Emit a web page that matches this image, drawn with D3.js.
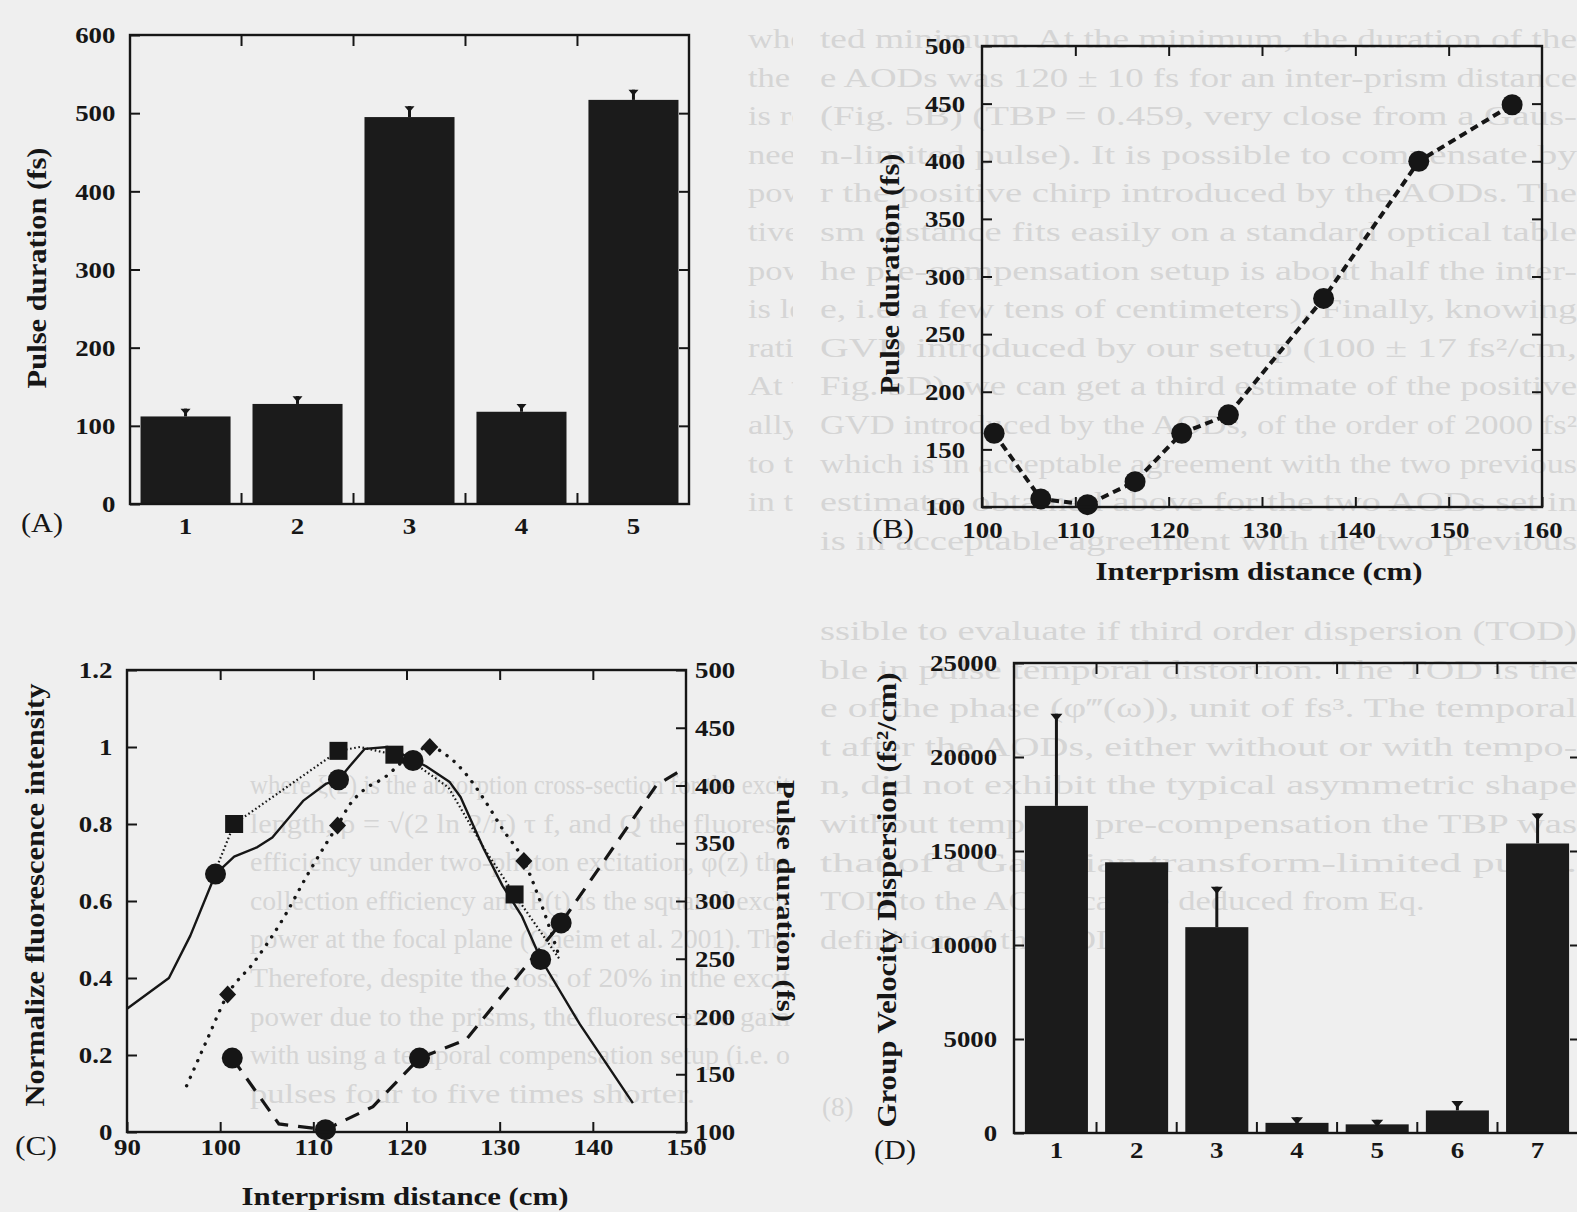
<!DOCTYPE html>
<html>
<head>
<meta charset="utf-8">
<title>Pulse duration / GVD figure</title>
<script src="https://cdn.jsdelivr.net/npm/d3@7"></script>
<style>
  body { margin: 0; background: #efefef; }
  svg { display: block; }
</style>
</head>
<body>
<script>
// ---------- values ----------

// (A) pulse duration for each configuration
var catsA = ["1", "2", "3", "4", "5"];
var pulseA = [112, 128, 495, 118, 517];
var errTopA = [122, 138, 509, 128, 530];
var ticksA = [0, 100, 200, 300, 400, 500, 600];

// (B) pulse duration vs interprism distance
var distB = [101.3, 106.3, 111.3, 116.4, 121.4, 126.4, 136.6, 146.8, 156.8];
var pulseB = [164, 107, 102, 122, 164, 180, 281, 400, 449];
var ticksBx = [100, 110, 120, 130, 140, 150, 160];
var ticksBy = [100, 150, 200, 250, 300, 350, 400, 450, 500];

// (C) normalized fluorescence (left axis), pulse duration (right axis, same as B)
var solidX = [90, 94.5, 96.8, 99.5, 101.5, 104, 105.6, 108.9, 111.4, 112.7, 113.9, 115.5, 118, 120.5, 122.1, 124.6, 125.8, 128.3, 130.3, 132.4, 134.4, 138.6, 144.3];
var solidY = [0.32, 0.40, 0.51, 0.67, 0.715, 0.74, 0.765, 0.86, 0.905, 0.915, 0.95, 0.995, 1.0, 0.97, 0.95, 0.91, 0.87, 0.735, 0.64, 0.56, 0.45, 0.28, 0.075];
var solidMarkX = [99.5, 112.7, 120.7, 134.4];
var solidMarkY = [0.67, 0.915, 0.965, 0.448];

var squareX = [99.5, 101.5, 112.7, 115, 118.7, 121, 124.5, 128.5, 131.6, 136.4];
var squareY = [0.68, 0.80, 0.99, 1.0, 0.98, 0.955, 0.895, 0.73, 0.617, 0.45];
var squareMarkX = [101.5, 112.7, 118.7, 131.6];
var squareMarkY = [0.80, 0.99, 0.98, 0.617];

var diamondX = [96.4, 98.6, 100.8, 103.6, 106.9, 109.3, 111.4, 112.6, 113.9, 115.5, 117.6, 120, 122.5, 124.5, 126.2, 128.3, 130.3, 132.6, 134.4, 136.5];
var diamondY = [0.12, 0.24, 0.357, 0.44, 0.56, 0.665, 0.75, 0.796, 0.85, 0.89, 0.92, 0.97, 1.0, 0.975, 0.935, 0.865, 0.787, 0.704, 0.596, 0.448];
var diamondMarkX = [100.8, 112.6, 122.5, 132.6];
var diamondMarkY = [0.357, 0.796, 1.0, 0.704];

var dashMarkIdx = [0, 2, 4, 6];   // points of distB/pulseB that carry a circle in (C)

var ticksCx = [90, 100, 110, 120, 130, 140, 150];
var ticksCy = [0, 0.2, 0.4, 0.6, 0.8, 1, 1.2];
var labelsCy = ["0", "0.2", "0.4", "0.6", "0.8", "1", "1.2"];
var ticksCr = [100, 150, 200, 250, 300, 350, 400, 450, 500];

// (D) group velocity dispersion per configuration
var catsD = ["1", "2", "3", "4", "5", "6", "7"];
var gvdD = [17400, 14400, 10950, 540, 460, 1200, 15400];
var errTopD = [22300, 14400, 13100, 840, 700, 1700, 17000];
var ticksD = [0, 5000, 10000, 15000, 20000, 25000];

// page text showing through behind the figure
var pageRightTop = [
  "ted minimum. At the minimum, the duration of the",
  "e AODs was 120 \u00b1 10 fs for an inter-prism distance",
  "(Fig. 5B) (TBP = 0.459, very close from a Gaus-",
  "n-limited pulse). It is possible to compensate by",
  "r the positive chirp introduced by the AODs. The",
  "sm distance fits easily on a standard optical table",
  "he pre-compensation setup is about half the inter-",
  "e, i.e. a few tens of centimeters). Finally, knowing",
  "GVD introduced by our setup (100 \u00b1 17 fs\u00b2/cm,",
  "Fig. 5D), we can get a third estimate of the positive",
  "GVD introduced by the AODs, of the order of 2000 fs\u00b2",
  "which is in acceptable agreement with the two previous",
  "estimates obtained above for the two AODs set in",
  "is in acceptable agreement with the two previous"
];
var pageLeftTop = [
  "where", "the av", "is red", "needed", "power", "tive di", "power",
  "is less", "ratio,", "At the", "ally", "to the", "in the"
];
var pageLeftBottom = [
  "where \u03be(2) is the absorption cross-section for the excit",
  "length, \u03c1 = \u221a(2 ln 2/\u03c0) \u03c4 f, and Q the fluoresc",
  "efficiency under two-photon excitation, \u03c6(z) the",
  "collection efficiency and P(t) is the squared excit",
  "power at the focal plane (Oheim et al. 2001). The",
  "Therefore, despite the loss of 20% in the excit",
  "power due to the prisms, the fluorescence gain",
  "with using a temporal compensation setup (i.e. o",
  "pulses four to five times shorter."
];
var pageRightBottom = [
  "ssible to evaluate if third order dispersion (TOD)",
  "ble in pulse temporal distortion. The TOD is the",
  "e of the phase (\u03c6\u2034(\u03c9)), unit of fs\u00b3. The temporal",
  "t after the AODs, either without or with tempo-",
  "n, did not exhibit the typical asymmetric shape",
  "without temporal pre-compensation the TBP was",
  "that of a Gaussian transform-limited pulse.",
  "TOD to the AODs can be deduced from Eq.",
  "definition of the TOD"
];

// ---------- drawing ----------
var W = 1577, H = 1212;
var ink = "#161616";
var pageInk = "#d5d5d5";
var serif = "'Liberation Serif', 'Times New Roman', serif";

var svg = d3.select("body").append("svg")
    .attr("width", W)
    .attr("height", H);

svg.append("rect").attr("width", W).attr("height", H).attr("fill", "#efefef");

var defs = svg.append("defs");
defs.append("clipPath").attr("id", "clipLeftCol")
  .append("rect").attr("x", 700).attr("y", 0).attr("width", 93).attr("height", 560);
defs.append("clipPath").attr("id", "clipC")
  .append("rect").attr("x", 127).attr("y", 670).attr("width", 559).attr("height", 462);

// faint page text
function pageText(lines, x0, x1, y0, clip) {
  var g = svg.append("g")
      .attr("fill", pageInk)
      .attr("font-family", serif)
      .attr("font-size", 27);
  if (clip) g.attr("clip-path", "url(#" + clip + ")");
  lines.forEach(function(t, i) {
    var tx = g.append("text").attr("x", x0).attr("y", y0 + i * 38.6).text(t);
    if (x1 && t.length > 40) tx.attr("textLength", x1 - x0).attr("lengthAdjust", "spacingAndGlyphs");
    else tx.attr("transform", "translate(" + x0 + ",0) scale(1.28,1) translate(" + (-x0) + ",0)");
  });
  return g;
}
pageText(pageRightTop, 820, 1577, 48);
pageText(pageLeftTop, 748, null, 48, "clipLeftCol");
pageText(pageLeftBottom, 250, 790, 794);
pageText(pageRightBottom, 820, 1577, 640);
svg.append("text").attr("x", 822).attr("y", 1116)
  .attr("fill", pageInk).attr("font-family", serif).attr("font-size", 27)
  .text("(8)");

// shared helpers
function styleAxis(g, sx) {
  g.select(".domain").remove();
  g.selectAll(".tick line").attr("stroke", ink).attr("stroke-width", 2);
  g.selectAll(".tick text")
    .attr("fill", ink)
    .attr("font-family", serif)
    .attr("font-weight", "bold")
    .attr("font-size", 24)
    .attr("transform", "scale(" + (sx || 1.12) + ",1)");
}

function frame(x0, y0, x1, y1) {
  svg.append("rect")
    .attr("x", x0).attr("y", y0)
    .attr("width", x1 - x0).attr("height", y1 - y0)
    .attr("fill", "none")
    .attr("stroke", ink)
    .attr("stroke-width", 2.4);
}

// ticks between bars, on top and bottom edges
function bandTicks(scale, yTop, yBot, len) {
  var c = scale.domain();
  for (var i = 1; i < c.length; i++) {
    var xm = (scale(c[i - 1]) + scale.bandwidth() + scale(c[i])) / 2;
    svg.append("line").attr("x1", xm).attr("x2", xm).attr("y1", yTop).attr("y2", yTop + len)
      .attr("stroke", ink).attr("stroke-width", 2);
    svg.append("line").attr("x1", xm).attr("x2", xm).attr("y1", yBot).attr("y2", yBot - len)
      .attr("stroke", ink).attr("stroke-width", 2);
  }
}

function panelLetter(txt, cx, y) {
  svg.append("text")
    .attr("x", cx).attr("y", y)
    .attr("text-anchor", "middle")
    .attr("font-family", serif)
    .attr("font-size", 27)
    .attr("fill", ink)
    .attr("textLength", 42)
    .attr("lengthAdjust", "spacingAndGlyphs")
    .text(txt);
}

function vTitle(txt, x, cy, len, size, rot) {
  svg.append("text")
    .attr("transform", "translate(" + x + "," + cy + ") rotate(" + (rot || -90) + ")")
    .attr("text-anchor", "middle")
    .attr("font-family", serif)
    .attr("font-weight", "bold")
    .attr("font-size", size)
    .attr("fill", ink)
    .attr("textLength", len)
    .attr("lengthAdjust", "spacingAndGlyphs")
    .text(txt);
}

function hTitle(txt, cx, y, len) {
  svg.append("text")
    .attr("x", cx).attr("y", y)
    .attr("text-anchor", "middle")
    .attr("font-family", serif)
    .attr("font-weight", "bold")
    .attr("font-size", 26)
    .attr("fill", ink)
    .attr("textLength", len)
    .attr("lengthAdjust", "spacingAndGlyphs")
    .text(txt);
}

function errBars(scaleX, scaleY, cats, vals, tops, cap) {
  cats.forEach(function(c, i) {
    if (tops[i] <= vals[i]) return;
    var cx = scaleX(c) + scaleX.bandwidth() / 2;
    svg.append("line")
      .attr("x1", cx).attr("x2", cx)
      .attr("y1", scaleY(vals[i])).attr("y2", scaleY(tops[i]))
      .attr("stroke", ink).attr("stroke-width", 3);
    svg.append("path")
      .attr("d", "M" + (cx - cap / 2) + "," + scaleY(tops[i]) + "h" + cap + "l" + (-cap / 2) + "," + (cap * 0.6) + "z")
      .attr("fill", ink);
  });
}

// ---------- (A) ----------
var xA = d3.scaleBand().domain(catsA).range([130, 689]).paddingInner(0.196).paddingOuter(0.094);
var yA = d3.scaleLinear().domain([0, 600]).range([504, 35]);

svg.selectAll(".barA")
  .data(pulseA)
  .enter()
  .append("rect")
  .attr("class", "barA")
  .attr("x", function(d, i) { return xA(catsA[i]); })
  .attr("y", function(d) { return yA(d); })
  .attr("width", xA.bandwidth())
  .attr("height", function(d) { return yA(0) - yA(d); })
  .attr("fill", "#1b1b1b");
errBars(xA, yA, catsA, pulseA, errTopA, 10);

svg.append("g").attr("transform", "translate(130,0)")
  .call(d3.axisLeft(yA).tickValues(ticksA).tickSizeInner(-10).tickSizeOuter(0).tickPadding(13))
  .call(styleAxis);
svg.append("g").attr("transform", "translate(689,0)")
  .call(d3.axisRight(yA).tickValues(ticksA.slice(1, -1)).tickSizeInner(-10).tickSizeOuter(0).tickFormat(""))
  .call(styleAxis);
svg.append("g").attr("transform", "translate(0,504)")
  .call(d3.axisBottom(xA).tickSize(0).tickPadding(13))
  .call(styleAxis);
bandTicks(xA, 35, 504, 11);
frame(130, 35, 689, 504);
panelLetter("(A)", 42, 532);
vTitle("Pulse duration (fs)", 46, 268, 241, 28);

// ---------- (B) ----------
var xB = d3.scaleLinear().domain([100, 160]).range([982, 1542]);
var yB = d3.scaleLinear().domain([100, 500]).range([507, 46]);

svg.append("g").attr("transform", "translate(982,0)")
  .call(d3.axisLeft(yB).tickValues(ticksBy).tickSizeInner(-10).tickSizeOuter(0).tickPadding(15))
  .call(styleAxis);
svg.append("g").attr("transform", "translate(1542,0)")
  .call(d3.axisRight(yB).tickValues(ticksBy.slice(1, -1)).tickSizeInner(-10).tickSizeOuter(0).tickFormat(""))
  .call(styleAxis);
svg.append("g").attr("transform", "translate(0,507)")
  .call(d3.axisBottom(xB).tickValues(ticksBx).tickSizeInner(-10).tickSizeOuter(0).tickPadding(14))
  .call(styleAxis);
svg.append("g").attr("transform", "translate(0,46)")
  .call(d3.axisTop(xB).tickValues(ticksBx.slice(1, -1)).tickSizeInner(-10).tickSizeOuter(0).tickFormat(""))
  .call(styleAxis);

var lineB = d3.line()
  .x(function(d, i) { return xB(distB[i]); })
  .y(function(d) { return yB(d); });
svg.append("path")
  .attr("d", lineB(pulseB))
  .attr("fill", "none")
  .attr("stroke", ink)
  .attr("stroke-width", 4)
  .attr("stroke-dasharray", "8,5");
svg.selectAll(".dotB")
  .data(pulseB)
  .enter()
  .append("circle")
  .attr("class", "dotB")
  .attr("cx", function(d, i) { return xB(distB[i]); })
  .attr("cy", function(d) { return yB(d); })
  .attr("r", 10.5)
  .attr("fill", ink);
frame(982, 46, 1542, 507);
panelLetter("(B)", 893, 538);
vTitle("Pulse duration (fs)", 899, 274, 241, 28);
hTitle("Interprism distance (cm)", 1259, 580, 327);

// ---------- (C) ----------
var xC = d3.scaleLinear().domain([90, 150]).range([127, 686]);
var yCL = d3.scaleLinear().domain([0, 1.2]).range([1132, 670]);
var yCR = d3.scaleLinear().domain([100, 500]).range([1132, 670]);

svg.append("g").attr("transform", "translate(127,0)")
  .call(d3.axisLeft(yCL).tickValues(ticksCy).tickSizeInner(-10).tickSizeOuter(0).tickPadding(13)
    .tickFormat(function(d, i) { return labelsCy[i]; }))
  .call(styleAxis);
svg.append("g").attr("transform", "translate(686,0)")
  .call(d3.axisRight(yCR).tickValues(ticksCr).tickSizeInner(-10).tickSizeOuter(0).tickPadding(8))
  .call(styleAxis);
svg.append("g").attr("transform", "translate(0,1132)")
  .call(d3.axisBottom(xC).tickValues(ticksCx).tickSizeInner(-10).tickSizeOuter(0).tickPadding(6))
  .call(styleAxis);
svg.append("g").attr("transform", "translate(0,670)")
  .call(d3.axisTop(xC).tickValues(ticksCx.slice(1, -1)).tickSizeInner(-10).tickSizeOuter(0).tickFormat(""))
  .call(styleAxis);

var gC = svg.append("g").attr("clip-path", "url(#clipC)");

function seriesLine(xs, ys, yScale, curve) {
  return d3.line()
    .curve(curve || d3.curveLinear)
    .x(function(d, i) { return xC(xs[i]); })
    .y(function(d) { return yScale(d); })(ys);
}

// solid fluorescence curve
gC.append("path")
  .attr("d", seriesLine(solidX, solidY, yCL))
  .attr("fill", "none").attr("stroke", ink).attr("stroke-width", 2.4)
  .attr("stroke-linejoin", "round");
// fine dotted, squares
gC.append("path")
  .attr("d", seriesLine(squareX, squareY, yCL))
  .attr("fill", "none").attr("stroke", ink).attr("stroke-width", 2.2)
  .attr("stroke-dasharray", "1.6,2.6");
// sparse dotted, diamonds
gC.append("path")
  .attr("d", seriesLine(diamondX, diamondY, yCL, d3.curveMonotoneX))
  .attr("fill", "none").attr("stroke", ink).attr("stroke-width", 3.4)
  .attr("stroke-linecap", "round")
  .attr("stroke-dasharray", "0.1,9");
// dashed pulse duration (right axis)
gC.append("path")
  .attr("d", d3.line()
    .x(function(d, i) { return xC(distB[i]); })
    .y(function(d) { return yCR(d); })(pulseB))
  .attr("fill", "none").attr("stroke", ink).attr("stroke-width", 3.2)
  .attr("stroke-dasharray", "15,10");

gC.selectAll(".dotCs")
  .data(solidMarkY)
  .enter()
  .append("circle")
  .attr("cx", function(d, i) { return xC(solidMarkX[i]); })
  .attr("cy", function(d) { return yCL(d); })
  .attr("r", 10.5)
  .attr("fill", ink);
gC.selectAll(".sqC")
  .data(squareMarkY)
  .enter()
  .append("rect")
  .attr("x", function(d, i) { return xC(squareMarkX[i]) - 9; })
  .attr("y", function(d) { return yCL(d) - 9; })
  .attr("width", 18).attr("height", 18)
  .attr("fill", ink);
gC.selectAll(".diaC")
  .data(diamondMarkY)
  .enter()
  .append("path")
  .attr("transform", function(d, i) { return "translate(" + xC(diamondMarkX[i]) + "," + yCL(d) + ")"; })
  .attr("d", "M0,-9L8.5,0L0,9L-8.5,0Z")
  .attr("fill", ink);
svg.selectAll(".dotCd")
  .data(dashMarkIdx)
  .enter()
  .append("circle")
  .attr("cx", function(k) { return xC(distB[k]); })
  .attr("cy", function(k) { return yCR(pulseB[k]); })
  .attr("r", 10.5)
  .attr("fill", ink);

frame(127, 670, 686, 1132);
panelLetter("(C)", 36, 1155);
vTitle("Normalize fluorescence intensity", 44, 895, 423, 28);
vTitle("Pulse duration (fs)", 777, 901, 242, 25, 90);
hTitle("Interprism distance (cm)", 405, 1205, 327);

// ---------- (D) ----------
var xD = d3.scaleBand().domain(catsD).range([1014, 1580]).paddingInner(0.214).paddingOuter(0.136);
var yD = d3.scaleLinear().domain([0, 25000]).range([1133, 663]);

svg.selectAll(".barD")
  .data(gvdD)
  .enter()
  .append("rect")
  .attr("class", "barD")
  .attr("x", function(d, i) { return xD(catsD[i]); })
  .attr("y", function(d) { return yD(d); })
  .attr("width", xD.bandwidth())
  .attr("height", function(d) { return yD(0) - yD(d); })
  .attr("fill", "#1b1b1b");
errBars(xD, yD, catsD, gvdD, errTopD, 12);

svg.append("g").attr("transform", "translate(1014,0)")
  .call(d3.axisLeft(yD).tickValues(ticksD).tickFormat(d3.format("d"))
    .tickSizeInner(-10).tickSizeOuter(0).tickPadding(15))
  .call(styleAxis);
svg.append("g").attr("transform", "translate(1580,0)")
  .call(d3.axisRight(yD).tickValues(ticksD.slice(1, -1)).tickSizeInner(-10).tickSizeOuter(0).tickFormat(""))
  .call(styleAxis);
svg.append("g").attr("transform", "translate(0,1133)")
  .call(d3.axisBottom(xD).tickSize(0).tickPadding(8))
  .call(styleAxis);
bandTicks(xD, 663, 1133, 11);
frame(1014, 663, 1580, 1133);
panelLetter("(D)", 895, 1159);
vTitle("Group Velocity Dispersion (fs\u00b2/cm)", 896, 900, 455, 28);
</script>
</body>
</html>
